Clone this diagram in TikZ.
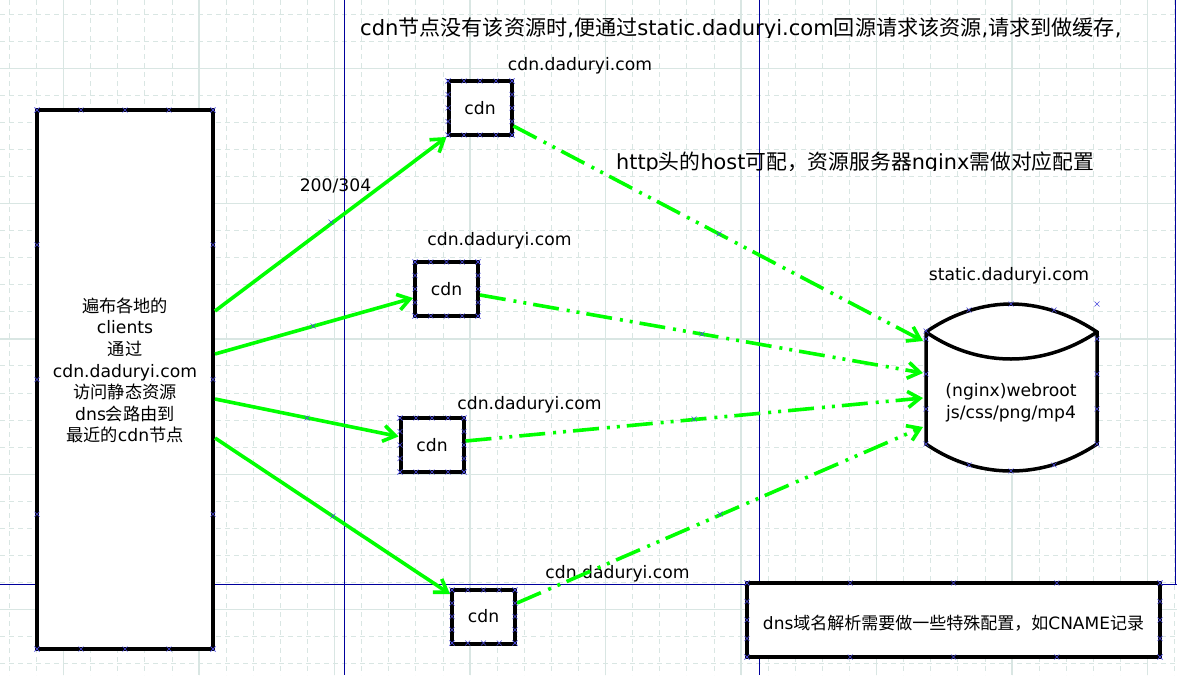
\documentclass[tikz,border=0pt]{standalone}
\usepackage{fontspec}
\setmainfont{DejaVu Sans}
\newfontfamily\cjk{Noto Sans CJK SC}
\newcommand{\zh}[1]{{\cjk #1}}
\usetikzlibrary{arrows.meta}
\definecolor{colorGrid}{HTML}{D9E6E3}
\definecolor{colorGuide}{HTML}{00009C}
\definecolor{colorFlow}{HTML}{00FF00}
\definecolor{colorMark}{HTML}{4A4ADC}
\tikzset{
  gridminor/.style={colorGrid, line width=0.8pt, dash pattern=on 5pt off 4pt},
  gridmajor/.style={colorGrid, line width=1.2pt},
  guide/.style={colorGuide, line width=1pt},
  boxline/.style={draw=black, fill=white, line width=4pt},
  cdnbox/.style={boxline, minimum width=63pt, minimum height=54pt, inner sep=0pt},
  textnode/.style={font=\fontsize{17.2}{21.6}\selectfont, inner sep=0pt, align=center},
  bigtext/.style={font=\fontsize{21}{25}\selectfont, inner sep=0pt, anchor=west},
  request/.style={->, colorFlow, line width=3.6pt},
  origin/.style={->, colorFlow, line width=3.6pt, dash pattern=on 26pt off 8pt on 3pt off 7pt on 3pt off 7pt},
  xmark/.style={colorMark, line width=0.6pt}
}
\newcommand{\xat}[2]{\draw[xmark] ({#1-2.5},{#2-2.5}) -- ({#1+2.5},{#2+2.5}) ({#1-2.5},{#2+2.5}) -- ({#1+2.5},{#2-2.5});}
\newcommand{\boxmarks}[4]{
  \foreach \t in {0,0.25,0.5,0.75,1} {
    \xat{#1+(#3-#1)*\t}{#2}
    \xat{#1+(#3-#1)*\t}{#4}
    \xat{#1}{#2+(#4-#2)*\t}
    \xat{#3}{#2+(#4-#2)*\t}
  }
}

\begin{document}
\begin{tikzpicture}[x=1pt, y=-1pt, >={Straight Barb[length=12pt, width=16pt]}]
\useasboundingbox (0,0) rectangle (1177,675);
\fill[white] (0,0) rectangle (1177,675);
\foreach \k in {0,...,43} \draw[gridminor] ({9.3+27.1*\k},0) -- ({9.3+27.1*\k},675);
\foreach \k in {0,...,24} \draw[gridminor] (0,{14.2+27.05*\k}) -- (1177,{14.2+27.05*\k});
\foreach \k in {0,...,8} \draw[gridmajor] ({63.5+135.5*\k},0) -- ({63.5+135.5*\k},675);
\foreach \k in {0,...,4} \draw[gridmajor] (0,{68.5+135.2*\k}) -- (1177,{68.5+135.2*\k});
\draw[guide] (344.5,0) -- (344.5,675);
\draw[guide] (759,0) -- (759,675);
\draw[guide] (1175.5,0) -- (1175.5,584);
\draw[guide] (0,584) -- (1177,584);

\node[boxline, minimum width=176pt, minimum height=539pt] (clients) at (125,379.5) {};
\node[textnode] (clientstext) at (125,370.5) {\zh{遍布各地的}\\clients\\\zh{通过}\\cdn.daduryi.com\\\zh{访问静态资源}\\dns\zh{会路由到}\\\zh{最近的}cdn\zh{节点}};
\node[cdnbox, textnode] (cdnone) at (480,108) {cdn};
\node[cdnbox, textnode] (cdntwo) at (446.5,289) {cdn};
\node[cdnbox, textnode] (cdnthree) at (432,445) {cdn};
\node[cdnbox, textnode] (cdnfour) at (483.5,616.5) {cdn};
\node[boxline, textnode, font=\fontsize{17}{21}\selectfont, text height=21pt, text depth=2pt, minimum width=413pt, minimum height=74pt] (dnsbox) at (953.5,620) {dns\zh{域名解析需要做一些特殊配置，如}CNAME\zh{记录}};

\draw[line width=3.5pt, fill=white] (926,332) .. controls (955,312) and (985,304) .. (1011,304) .. controls (1037,304) and (1067,312) .. (1097,332) -- (1097,444) .. controls (1067,464) and (1037,471) .. (1011,471) .. controls (985,471) and (955,464) .. (926,444) -- cycle;
\draw[line width=3.5pt] (926,332) .. controls (955,352) and (985,359) .. (1011,359) .. controls (1037,359) and (1067,352) .. (1097,332);
\node[textnode, minimum width=171pt, minimum height=167pt, outer sep=3pt] (webroot) at (1011.5,388) {};
\node[textnode] (webroottext) at (1011,402.5) {(nginx)webroot\\js/css/png/mp4};

\node[textnode] (nameone) at (580,65.5) {cdn.daduryi.com};
\node[textnode] (nametwo) at (499.5,240.5) {cdn.daduryi.com};
\node[textnode] (namethree) at (529.5,404.5) {cdn.daduryi.com};
\node[textnode] (namefour) at (617.5,573.5) {cdn.daduryi.com};
\node[textnode] (namestatic) at (1009,275.5) {static.daduryi.com};
\node[textnode] (status) at (335.5,185.5) {200/304};
\begin{scope}
\clip (340,0) rectangle (1177,37);
\node[bigtext, font=\fontsize{21.1}{25}\selectfont] (topnote) at (360,29) {cdn\zh{节点没有该资源时},\zh{便通过}static.daduryi.com\zh{回源请求该资源},\zh{请求到做缓存},};
\end{scope}
\begin{scope}
\clip (600,140) rectangle (1177,170.5);
\node[bigtext, font=\fontsize{20.8}{25}\selectfont] (hostnote) at (616,162.5) {http\zh{头的}host\zh{可配，资源服务器}nginx\zh{需做对应配置}};
\end{scope}

\draw[request] ([yshift=68.5pt]clients.east) -- (cdnone.south west);
\draw[request] ([yshift=25.5pt]clients.east) -- ([yshift=-9pt]cdntwo.west);
\draw[request] ([yshift=-19.5pt]clients.east) -- ([yshift=8.5pt]cdnthree.west);
\draw[request] ([yshift=-58.5pt]clients.east) -- ([yshift=22.5pt]cdnfour.west);
\draw[origin] ([yshift=-18pt]cdnone.east) -- ([yshift=47pt]webroot.west);
\draw[origin] ([yshift=-6pt]cdntwo.east) -- ([yshift=15pt]webroot.west);
\draw[origin] ([yshift=4pt]cdnthree.east) -- ([yshift=-10pt]webroot.west);
\draw[origin] ([yshift=13.5pt]cdnfour.east) -- ([yshift=-39pt]webroot.west);

\boxmarks{37}{110}{213}{649}
\boxmarks{448}{81}{512}{135}
\boxmarks{415}{262}{478}{316}
\boxmarks{400}{418}{464}{472}
\boxmarks{452}{590}{515}{643}
\boxmarks{747}{583}{1160}{657}
\foreach \p/\q in {926/331, 926/339, 926/374, 926/409, 926/444, 1097/339, 1097/374, 1097/409, 1097/444, 969/310, 1011/304, 1054/310, 1097/304, 969/465, 1011/471, 1054/465, 331/222, 313/326, 307/418, 333/516, 719/234, 702/334, 694/419, 720/514} {
  \xat{\p}{\q}
}
\end{tikzpicture}
\end{document}
